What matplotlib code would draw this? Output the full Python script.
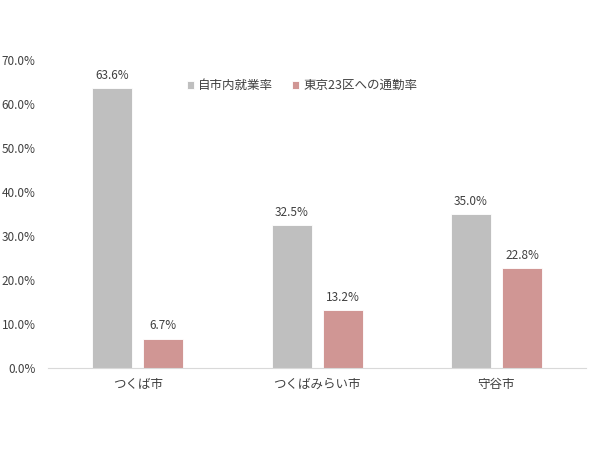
import numpy as np
import matplotlib
matplotlib.use('Agg')
import matplotlib.pyplot as plt

plt.rcParams['font.family'] = ['Noto Sans CJK JP', 'DejaVu Sans']

cities = ['つくば市', 'つくばみらい市', '守谷市']
series_names = ['自市内就業率', '東京23区への通勤率']
in_city = [63.6, 32.5, 35.0]
to_tokyo = [6.7, 13.2, 22.8]
colors = ['#BFBFBF', '#D09694']

fig = plt.figure(figsize=(6, 4.5), dpi=100)
ax = fig.add_axes([0.08, 0.182, 0.897, 0.684])

x = np.arange(len(cities))
w = 0.223
off = 0.142
for vals, name, c, sign in [(in_city, series_names[0], colors[0], -1),
                            (to_tokyo, series_names[1], colors[1], 1)]:
    bars = ax.bar(x + sign * off, vals, w, color=c, label=name,
                  edgecolor='white', linewidth=0.6)
    for b, v in zip(bars, vals):
        ax.text(b.get_x() + b.get_width() / 2, v + 1.4, '%.1f%%' % v,
                ha='center', va='bottom', fontsize=8.5, color='#404040')

ax.set_xlim(-0.5, 2.5)
ax.set_ylim(0, 70)
ax.set_yticks(np.arange(0, 71, 10))
ax.set_yticklabels(['%.1f%%' % t for t in np.arange(0, 71, 10)])
ax.set_xticks(x)
ax.set_xticklabels(cities)
ax.tick_params(axis='y', length=0, labelsize=8.5, labelcolor='#404040', pad=9)
ax.tick_params(axis='x', length=0, labelsize=9, labelcolor='#404040', pad=7)
for s in ['top', 'right', 'left']:
    ax.spines[s].set_visible(False)
ax.spines['bottom'].set_color('#D9D9D9')

ax.legend(loc='upper center', bbox_to_anchor=(0.472, 0.975), ncol=2,
          frameon=False, fontsize=9, handlelength=0.6, handleheight=0.6,
          handletextpad=0.3, columnspacing=1.5, labelcolor='#404040')

fig.savefig('out.png', dpi=100)
